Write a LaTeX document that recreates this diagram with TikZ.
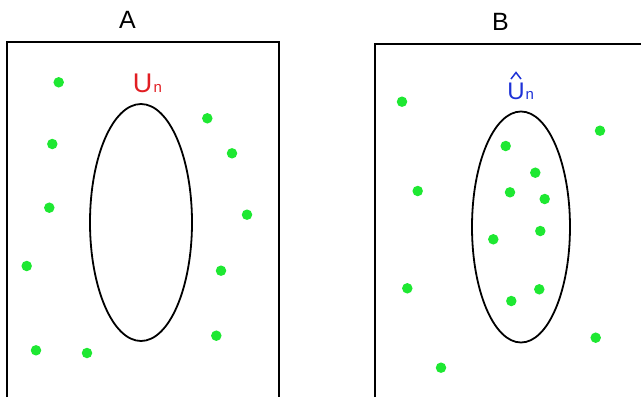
\documentclass[tikz,border=0pt]{standalone}
\usepackage{fontspec}
\setmainfont{Liberation Sans}
\definecolor{dotgreen}{RGB}{30,232,50}
\definecolor{lblred}{RGB}{225,30,35}
\definecolor{lblblue}{RGB}{30,50,215}
\begin{document}
\begin{tikzpicture}[x=1pt,y=-1pt,
  frame/.style={line width=1.8pt,black},
  pt/.style={circle,fill=dotgreen,inner sep=0pt,minimum size=10.5pt},
  title/.style={font=\fontsize{25}{25}\selectfont,inner sep=0pt,anchor=base},
  big/.style={inner sep=0pt,anchor=base}]
\useasboundingbox (0,0) rectangle (641,397);
% frames
\draw[frame] (7,397) -- (7,42) -- (279,42) -- (279,397);
\draw[frame] (375,397) -- (375,44) -- (641,44);
% titles
\node[title] (tA) at (127.5,28) {A};
\node[title] (tB) at (500.5,30.5) {B};
% ellipses
\draw[line width=1.8pt] (141,222.5) ellipse [x radius=51, y radius=118.5];
\draw[line width=1.8pt] (521,227) ellipse [x radius=49, y radius=115.5];
% labels
\node[big,text=lblred,font=\fontsize{27}{27}\selectfont] (un) at (142.5,92.5) {U};
\node[big,text=lblred,font=\fontsize{15}{15}\selectfont,anchor=base west] (unn) at (153.5,92.5) {n};
\node[big,text=lblblue,font=\fontsize{24}{24}\selectfont] (uh) at (516,99.5) {U};
\node[big,text=lblblue,font=\fontsize{15}{15}\selectfont,anchor=base west] (uhn) at (525.5,99.5) {n};
\coordinate (hatl) at (511,79);
\coordinate (hatt) at (516,72.5);
\coordinate (hatr) at (521,79);
\draw[lblblue,line width=1.5pt] (hatl) -- (hatt) -- (hatr);
% left dots
\foreach \x/\y [count=\i] in {58.7/82.3,52.3/144,49.3/207.7,26.7/266,36/350.3,87/353,207.3/118.3,232/153.3,247/214.7,221/270.7,216.3/335.7}
  \node[pt] (a\i) at (\x,\y) {};
% right dots
\foreach \x/\y [count=\i] in {402/101.7,417.7/191,407.3/288.3,441/367.7,600/130.7,595.7/337.7,505.7/146,535.3/172.7,510/192.3,544.7/199,540.3/231,493.3/239.3,539.3/289.3,511.3/301}
  \node[pt] (b\i) at (\x,\y) {};
\end{tikzpicture}
\end{document}
